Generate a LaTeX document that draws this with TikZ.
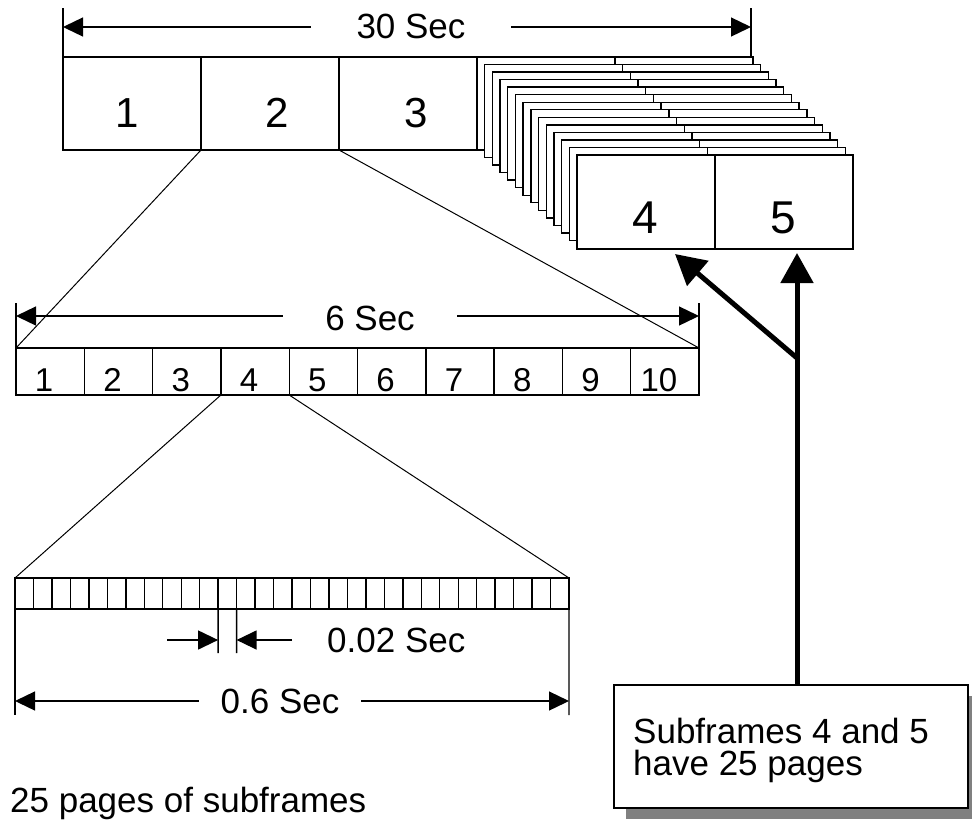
\documentclass[tikz,border=0pt]{standalone}
\usepackage{fontspec}
\setmainfont{Liberation Sans}
\usetikzlibrary{arrows.meta,shadows,calc}
\begin{document}
\begin{tikzpicture}[x=1pt,y=-1pt,
  edgeline/.style={draw, line width=1.4pt},
  cellbox/.style={draw, line width=1.4pt, fill=white, inner sep=0pt, outer sep=0pt},
  thinline/.style={line width=1.3pt},
  fanline/.style={line width=1pt},
  dimarrow/.style={line width=1.3pt, -{Triangle[length=20pt,width=19pt]}},
  dimboth/.style={line width=1.3pt, {Triangle[length=20pt,width=19pt]}-{Triangle[length=20pt,width=19pt]}},
  bigarrow/.style={line width=5pt, -{Triangle[length=30pt,width=32pt]}},
  lbl/.style={font=\fontsize{35}{42}\selectfont, inner ysep=0pt, inner xsep=0pt, anchor=base},
  digtop/.style={font=\fontsize{42}{50}\selectfont, inner sep=0pt, anchor=base},
  digbig/.style={font=\fontsize{46}{54}\selectfont, inner sep=0pt, anchor=base},
  digmid/.style={font=\fontsize{33}{40}\selectfont, inner sep=0pt, anchor=base},
  notebox/.style={draw, line width=1.6pt, fill=white, minimum width=354pt, minimum height=123pt,
     inner sep=0pt, outer sep=0pt,
     drop shadow={shadow xshift=12pt, shadow yshift=-11pt, fill=black!50, opacity=1}}
]
\useasboundingbox (0,0) rectangle (972,820);

% ---- top row (30 s frame) ----
\node[cellbox, minimum width=138pt, minimum height=93pt] (t1) at (132,103.5) {};
\node[cellbox, minimum width=138pt, minimum height=93pt] (t2) at (270,103.5) {};
\node[cellbox, minimum width=138pt, minimum height=93pt] (t3) at (408,103.5) {};
\node[digtop] (t1n) at (127,127) {1};
\node[digtop] (t2n) at (277,127) {2};
\node[digtop] (t3n) at (416,127) {3};

% ---- stack of pages for subframes 4 and 5 ----
\foreach \i in {0,...,12}{
  \pgfmathsetmacro{\px}{477+\i*100/13}
  \pgfmathsetmacro{\py}{57+\i*98/13}
  \draw[cellbox] (\px,\py) rectangle ++(276,93);
  \draw[edgeline] (\px+138,\py) -- ++(0,93);
}
\node[cellbox, minimum width=138pt, minimum height=94pt] (p4) at (646,202) {};
\node[cellbox, minimum width=138pt, minimum height=94pt] (p5) at (784,202) {};
\node[digbig] (p4n) at (645,233) {4};
\node[digbig] (p5n) at (783,233) {5};

% ---- 30 Sec dimension ----
\coordinate (k30lt) at (63,8);
\coordinate (k30rt) at (751,8);
\coordinate (k30rb) at (751,57);
\coordinate (a30l) at (63,27);
\coordinate (a30r) at (751,27);
\draw[thinline] (t1.north west) -- (k30lt);
\draw[thinline] (k30rb) -- (k30rt);
\draw[dimboth] (a30l) -- (a30r);
\node[lbl, fill=white, inner xsep=46pt] (n30) at (411,38) {30 Sec};

% ---- 10 subframes row (6 s) ----
\foreach \i in {1,...,10}{
  \node[cellbox, minimum width=68.3pt, minimum height=47pt] (r\i) at ({16+(\i-0.5)*68.3},371.5) {};
  \node[digmid] (rn\i) at ({16+(\i-0.5)*68.3-6},391) {\i};
}
\coordinate (k6l) at (16,303);
\coordinate (k6r) at (699,303);
\coordinate (a6l) at (16,316);
\coordinate (a6r) at (699,316);
\draw[thinline] (r1.north west) -- (k6l);
\draw[thinline] (r10.north east) -- (k6r);
\draw[dimboth] (a6l) -- (a6r);
\node[lbl, fill=white, inner xsep=42pt] (n6) at (370,330) {6 Sec};

% ---- fan lines ----
\draw[fanline] (t2.south west) -- (r1.north west);
\draw[fanline] (t3.south west) -- (r10.north east);

% ---- 30 pages row (0.6 s) ----
\foreach \i in {1,...,30}{
  \node[cellbox, minimum width=18.467pt, minimum height=31pt] (s\i) at ({15+(\i-0.5)*18.467},593.5) {};
}
\draw[fanline] (r4.south west) -- (s1.north west);
\draw[fanline] (r5.south west) -- (s30.north east);

% 0.02 Sec
\coordinate (k02l) at (218.1,653);
\coordinate (k02r) at (236.6,653);
\coordinate (a02lt) at (167,640);
\coordinate (a02l) at (218.1,640);
\coordinate (a02rt) at (292,640);
\coordinate (a02r) at (236.6,640);
\draw[thinline] (s12.south west) -- (k02l);
\draw[thinline] (s12.south east) -- (k02r);
\draw[dimarrow] (a02lt) -- (a02l);
\draw[dimarrow] (a02rt) -- (a02r);
\node[lbl, anchor=base west] (n002) at (327,652) {0.02 Sec};

% 0.6 Sec
\coordinate (k06l) at (15,715);
\coordinate (k06r) at (569,715);
\coordinate (a06l) at (15,701);
\coordinate (a06r) at (569,701);
\draw[thinline] (s1.south west) -- (k06l);
\draw[thinline] (s30.south east) -- (k06r);
\draw[dimboth] (a06l) -- (a06r);
\node[lbl, fill=white, inner xsep=22pt] (n06) at (280,713) {0.6 Sec};

% ---- note box and thick arrows ----
\node[notebox] (note) at (791,746.5) {};
\node[lbl, anchor=base west] (notea) at (633,743) {Subframes 4 and 5};
\node[lbl, anchor=base west] (noteb) at (633,775) {have 25 pages};
\coordinate (br) at (797,358);
\coordinate (tipA) at (797,253);
\coordinate (tipB) at (675,254);
\draw[bigarrow] (note.north -| br) -- (tipA);
\draw[bigarrow] (br) -- (tipB);

% ---- caption ----
\node[lbl, anchor=base west] (cap) at (10,812) {25 pages of subframes};
\end{tikzpicture}
\end{document}
